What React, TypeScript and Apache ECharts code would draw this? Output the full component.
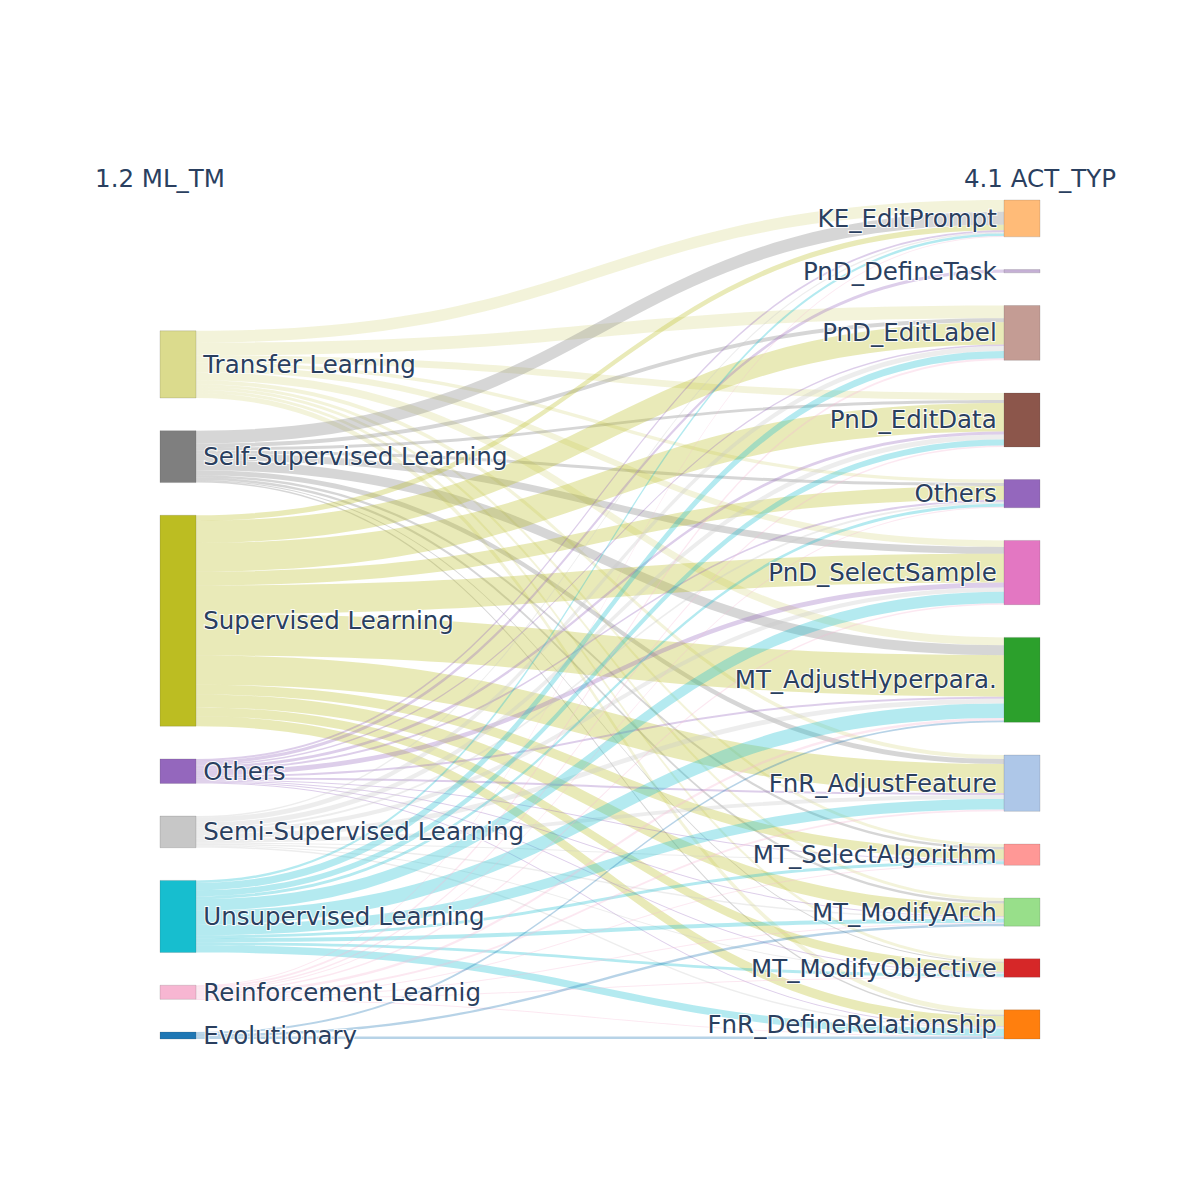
import React, { useEffect, useRef } from "react";
import * as echarts from "echarts";

// ---- Data ----
const sourceNames = [
  "Transfer Learning",
  "Self-Supervised Learning",
  "Supervised Learning",
  "Others",
  "Semi-Supervised Learning",
  "Unsupervised Learning",
  "Reinforcement Learnig",
  "Evolutionary",
];
const targetNames = [
  "KE_EditPrompt",
  "PnD_DefineTask",
  "PnD_EditLabel",
  "PnD_EditData",
  "Others",
  "PnD_SelectSample",
  "MT_AdjustHyperpara.",
  "FnR_AdjustFeature",
  "MT_SelectAlgorithm",
  "MT_ModifyArch",
  "MT_ModifyObjective",
  "FnR_DefineRelationship",
];
const sourceColors = ["#dbdb8d", "#7f7f7f", "#bcbd22", "#9467bd", "#c7c7c7", "#17becf", "#f7b6d2", "#1f77b4"];
const targetColors = [
  "#ffbb78", "#c5b0d5", "#c49c94", "#8c564b", "#9467bd", "#e377c2",
  "#2ca02c", "#aec7e8", "#ff9896", "#98df8a", "#d62728", "#ff7f0e",
];

// link values: one row per source, columns in targetNames order
const transferLearning = [12, 0, 13, 7, 3.5, 6.5, 8, 4, 3, 3, 3, 5];
const selfSupervised = [13, 0, 4, 3, 3, 7, 10, 5, 2.5, 2.5, 1, 1.5];
const supervised = [5.5, 0, 22.5, 29, 14, 29, 42, 29.5, 10, 13, 9, 10];
const othersMl = [2, 3.3, 1.5, 3, 2, 5, 2, 2, 1, 1, 1, 1];
const semiSupervised = [1.5, 0, 5, 5, 2, 4.5, 5, 4, 1, 1.5, 1, 1.5];
const unsupervised = [2.5, 0, 7.5, 6, 3, 11.5, 14.5, 10.5, 3, 4, 3, 7.5];
const reinforcement = [0.8, 0, 2, 1.5, 1, 1.5, 2.5, 2, 1, 1, 0.5, 0.5];
const evolutionary = [0, 0, 0, 0, 0, 0, 2, 0, 0, 2.5, 0, 2.5];

const matrix = [
  transferLearning, selfSupervised, supervised, othersMl,
  semiSupervised, unsupervised, reinforcement, evolutionary,
];

const leftTitle = "1.2 ML_TM";
const rightTitle = "4.1 ACT_TYP";

// ---- Layout constants ----
const TOP = 200;
const BOTTOM = 161;
const LEFT = 160;
const RIGHT = 160;
const CHART_H = 1200 - TOP - BOTTOM;
const NODE_GAP = 32.7;
const NODE_W = 36;
const FONT = "DejaVu Sans";
const FONT_SIZE = 24.5;
const TEXT_COLOR = "#2a3f5f";

export default function App() {
  const ref = useRef<HTMLDivElement>(null);

  useEffect(() => {
    if (!ref.current) return;
    const chart = echarts.init(ref.current, undefined, { renderer: "svg" });

    const srcKey = (i: number) => "src_" + i;
    const tgtKey = (j: number) => "tgt_" + j;

    const leftSum = matrix.reduce((a, r) => a + r.reduce((x, y) => x + y, 0), 0);
    const rightSum = leftSum;
    const ky = (CHART_H - (targetNames.length - 1) * NODE_GAP) / rightSum;
    // invisible spacer so that the left column sits at the bottom (as in the reference)
    const leftHeight = leftSum * ky + (sourceNames.length - 1) * NODE_GAP;
    const spacerValue = Math.max(0, (CHART_H - leftHeight - NODE_GAP) / ky - 0.01);

    const labelBase = {
      color: TEXT_COLOR,
      fontFamily: FONT,
      fontSize: FONT_SIZE,
      textBorderColor: "rgba(255,255,255,0.9)",
      textBorderWidth: 2,
      distance: 7,
    };

    const nodes: any[] = [
      {
        name: "__spacer",
        value: spacerValue,
        depth: 0,
        itemStyle: { color: "rgba(0,0,0,0)", borderWidth: 0 },
        label: { show: false },
        emphasis: { disabled: true },
        silent: true,
      },
      ...sourceNames.map((n, i) => ({
        name: srcKey(i),
        depth: 0,
        itemStyle: { color: sourceColors[i] },
        label: { ...labelBase, position: "right", formatter: n },
      })),
      ...targetNames.map((n, j) => ({
        name: tgtKey(j),
        depth: 1,
        itemStyle: { color: targetColors[j] },
        label: { ...labelBase, position: "left", formatter: n },
      })),
    ];

    const links: any[] = [];
    matrix.forEach((row, i) =>
      row.forEach((v, j) => {
        if (v > 0) links.push({ source: srcKey(i), target: tgtKey(j), value: v });
      })
    );

    chart.setOption({
      animation: false,
      backgroundColor: "#fff",
      tooltip: { show: false },
      graphic: [
        {
          type: "text",
          x: LEFT,
          y: 178,
          style: {
            text: leftTitle,
            fill: TEXT_COLOR,
            fontFamily: FONT,
            fontSize: FONT_SIZE,
            align: "center",
            verticalAlign: "middle",
          },
        },
        {
          type: "text",
          x: 1200 - RIGHT,
          y: 178,
          style: {
            text: rightTitle,
            fill: TEXT_COLOR,
            fontFamily: FONT,
            fontSize: FONT_SIZE,
            align: "center",
            verticalAlign: "middle",
          },
        },
      ],
      series: [
        {
          type: "sankey",
          left: LEFT,
          right: RIGHT,
          top: TOP,
          bottom: BOTTOM,
          nodeWidth: NODE_W,
          nodeGap: NODE_GAP,
          nodeAlign: "left",
          layoutIterations: 0,
          draggable: false,
          emphasis: { disabled: true },
          itemStyle: { borderColor: "rgba(68,68,68,0.35)", borderWidth: 0.5 },
          lineStyle: { color: "source", opacity: 0.32, curveness: 0.5 },
          label: labelBase,
          data: nodes,
          links,
        },
      ],
    });

    return () => chart.dispose();
  }, []);

  return (
    <div
      ref={ref}
      style={{ position: "fixed", left: -8, top: -8, width: 1200, height: 1200, background: "#fff" }}
    />
  );
}
